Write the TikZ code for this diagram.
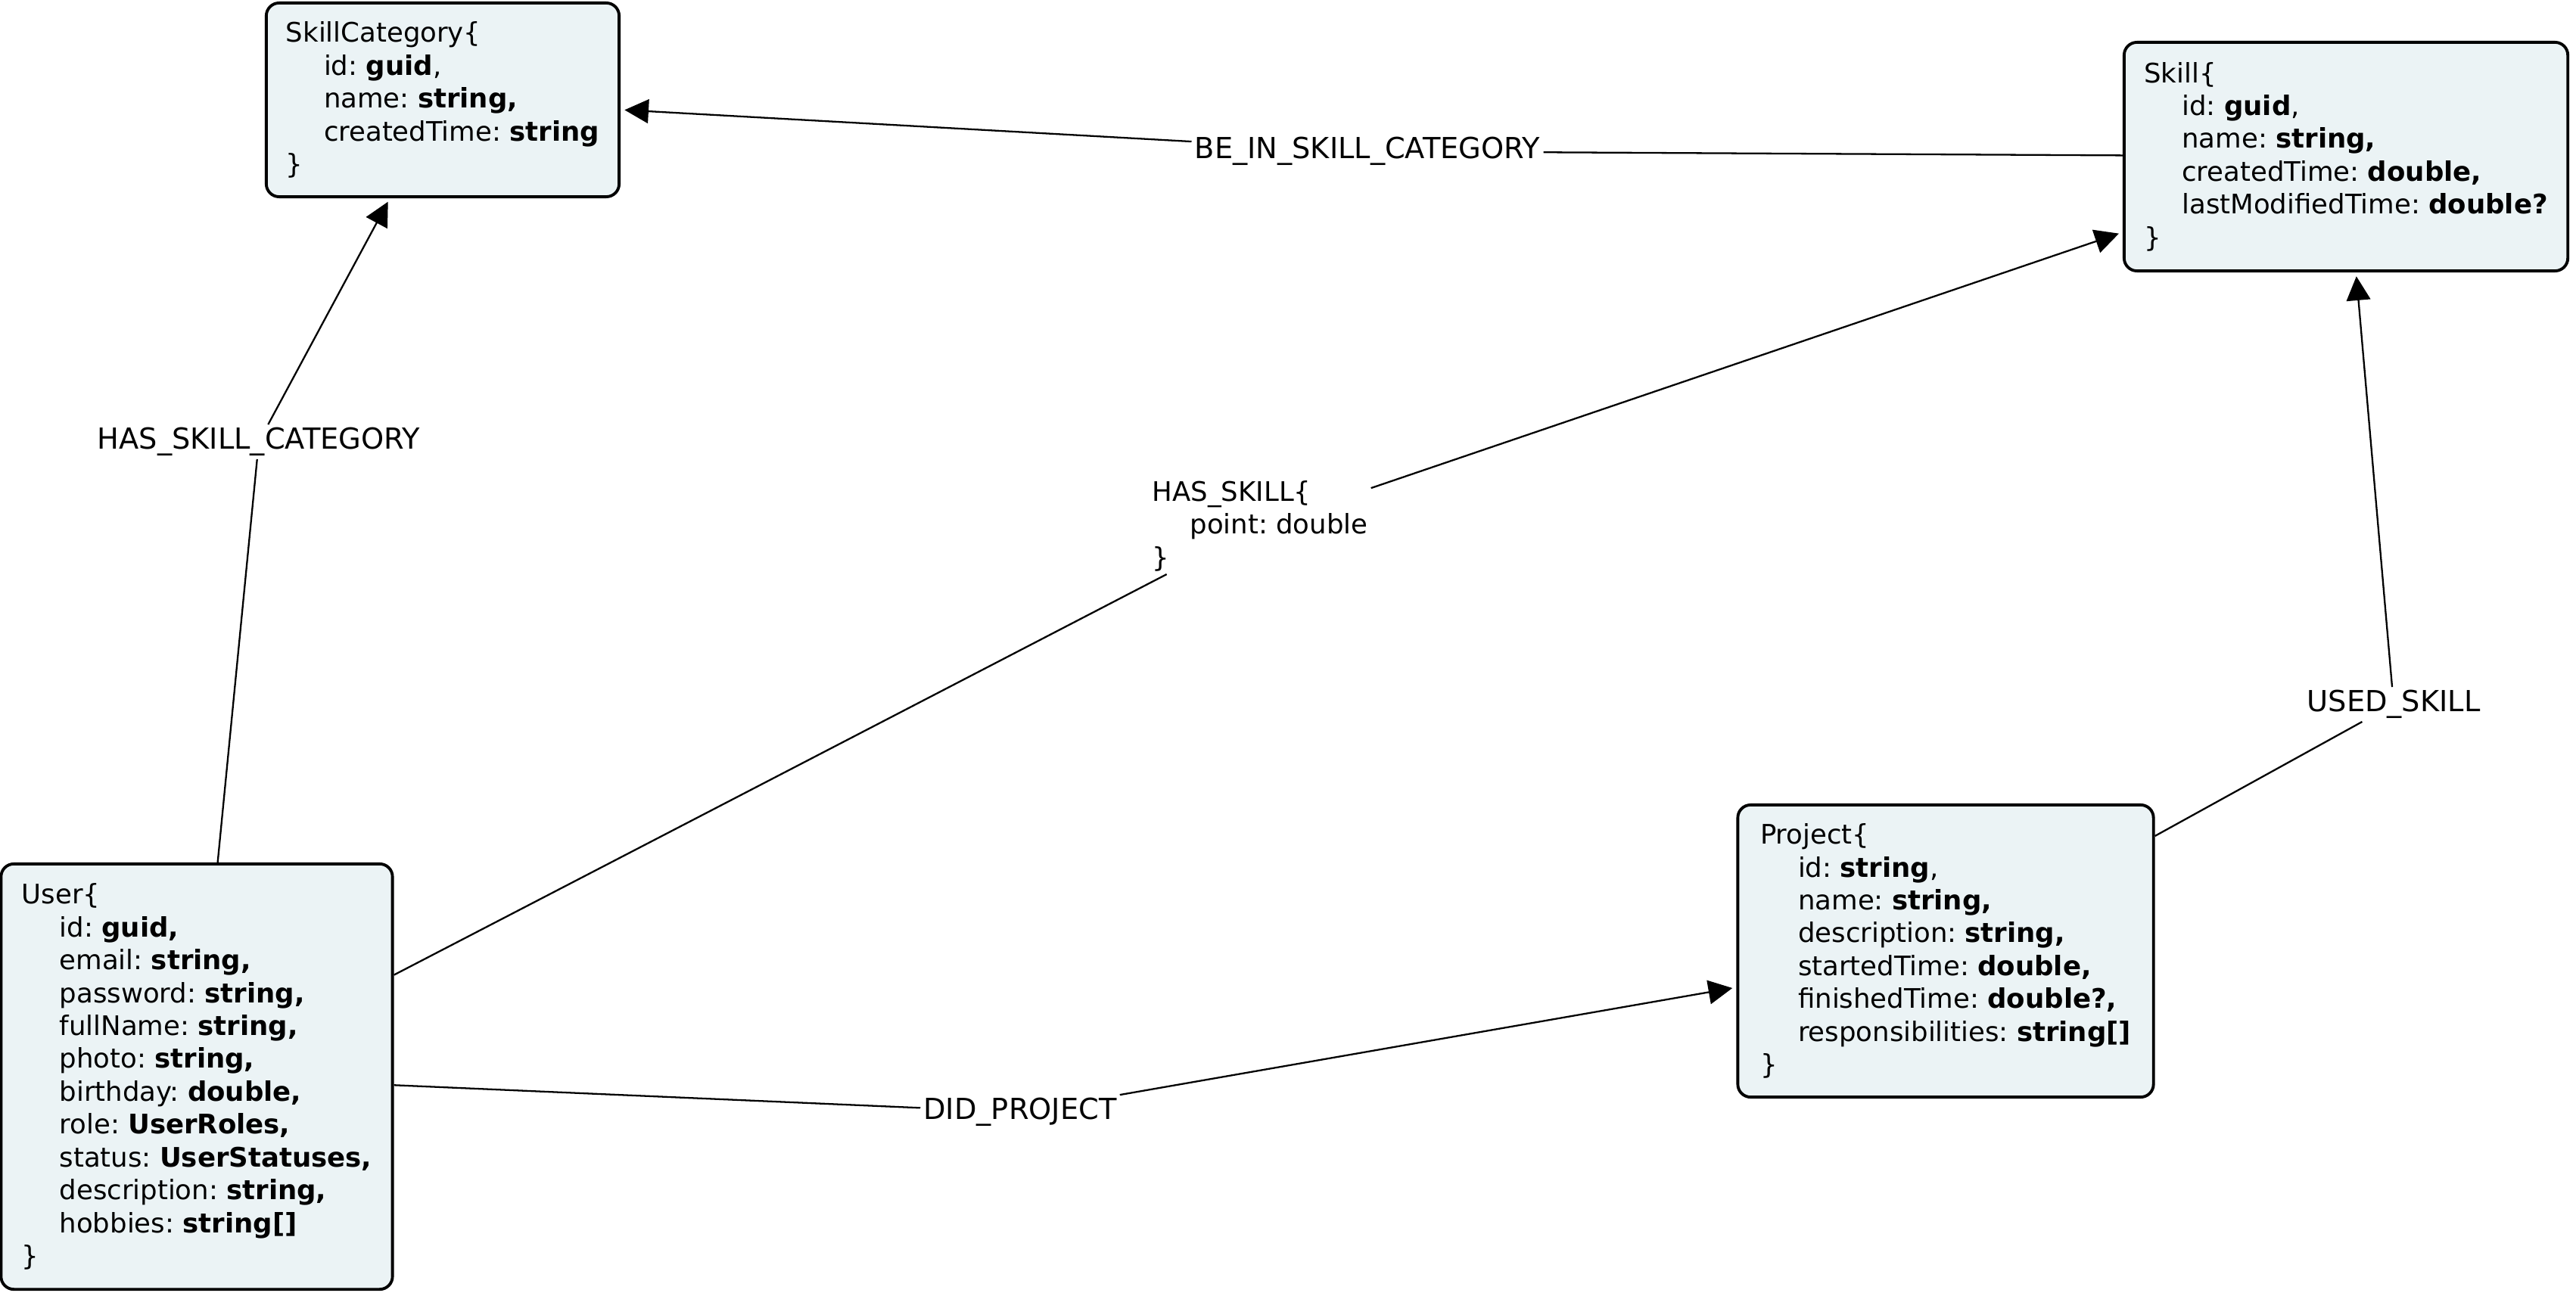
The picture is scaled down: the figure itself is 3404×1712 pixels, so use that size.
\documentclass[tikz,border=0pt]{standalone}
\usepackage{fontspec}
\setmainfont{DejaVu Sans}
\usetikzlibrary{arrows.meta}
\definecolor{boxfill}{RGB}{235,243,245}
\newcommand{\indnt}{\hspace*{0.5cm}}
\frenchspacing

\begin{document}
\begin{tikzpicture}[x=0.01cm, y=-0.01cm,
    entity/.style={draw, line width=1.1pt, rounded corners=0.17cm, fill=boxfill,
        align=left, inner xsep=0.2cm, inner ysep=0.1cm, font=\fontsize{10.1}{12.35}\selectfont},
    rel/.style={align=left, inner sep=1pt, font=\fontsize{10.9}{12.35}\selectfont},
    link/.style={line width=0.65pt},
    arr/.style={link, shorten >=1.5pt, -{Triangle[length=9pt, width=9pt]}}]
\useasboundingbox (0,0) rectangle (3404,1712);

% entities
\node[entity, minimum width=4.66cm, minimum height=2.56cm] (cat) at (585,132)
    {SkillCategory\{\\ \indnt id: \textbf{guid},\\ \indnt name: \textbf{string,}\\
     \indnt createdTime: \textbf{string}\\ \}};
\node[entity, minimum width=5.86cm, minimum height=3.02cm] (skill) at (3100,207)
    {Skill\{\\ \indnt id: \textbf{guid},\\ \indnt name: \textbf{string,}\\
     \indnt createdTime: \textbf{double,}\\ \indnt lastModifiedTime: \textbf{double?}\\ \}};
\node[entity, minimum width=5.17cm, minimum height=5.62cm] (user) at (260,1423)
    {User\{\\ \indnt id: \textbf{guid,}\\ \indnt email: \textbf{string,}\\
     \indnt password: \textbf{string,}\\ \indnt fullName: \textbf{string,}\\
     \indnt photo: \textbf{string,}\\ \indnt birthday: \textbf{double,}\\
     \indnt role: \textbf{UserRoles,}\\ \indnt status: \textbf{UserStatuses,}\\
     \indnt description: \textbf{string,}\\ \indnt hobbies: \textbf{string[]}\\ \}};
\node[entity, minimum width=5.49cm, minimum height=3.86cm] (project) at (2571,1257)
    {Project\{\\ \indnt id: \textbf{string},\\ \indnt name: \textbf{string,}\\
     \indnt description: \textbf{string,}\\ \indnt startedTime: \textbf{double,}\\
     \indnt finishedTime: \textbf{double?,}\\ \indnt responsibilities: \textbf{string[]}\\ \}};

% relation labels
\node[rel] (incat) at (1807,200) {BE\_IN\_SKILL\_CATEGORY};
\node[rel] (hascat) at (342,584) {HAS\_SKILL\_CATEGORY};
\node[rel, font=\fontsize{10.1}{12.35}\selectfont] (hasskill) at (1665,695)
    {HAS\_SKILL\{\\ \indnt point: double\\ \}};
\node[rel] (did) at (1348,1470) {DID\_PROJECT};
\node[rel] (used) at (3163,931) {USED\_SKILL};

% relations
\draw[arr] (skill) -- (incat) -- (cat);
\draw[arr] (user) -- (hascat) -- (cat);
\draw[arr] (user) -- (hasskill) -- (skill);
\draw[arr] (user) -- (did) -- (project);
\draw[arr] (project) -- (used) -- (skill);
\end{tikzpicture}
\end{document}
